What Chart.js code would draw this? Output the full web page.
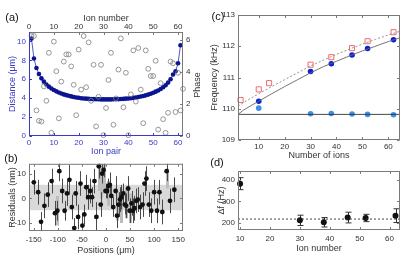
<!DOCTYPE html>
<html>
<head>
<meta charset="utf-8">
<script src="https://cdn.jsdelivr.net/npm/chart.js@4.4.1/dist/chart.umd.min.js"></script>
<style>
  html, body { margin: 0; padding: 0; background: #fff; }
  #fig { position: relative; width: 415px; height: 258px; overflow: hidden; font-family: 'Liberation Sans', Arial, sans-serif; }
  #fig canvas { position: absolute; }
  .lbl { position: absolute; font-size: 11px; color: #111; transform: translate(-50%, -50%); }
  .rot { position: absolute; font-size: 9px; color: #333; white-space: nowrap; transform: translate(-50%, -50%) rotate(-90deg); }
</style>
</head>
<body>
<div id="fig">
  <canvas id="chartA" width="210" height="160" style="left:0;top:0"></canvas>
  <canvas id="chartB" width="210" height="102" style="left:0;top:156px"></canvas>
  <canvas id="chartC" width="211" height="164" style="left:204px;top:0"></canvas>
  <canvas id="chartD" width="211" height="100" style="left:204px;top:158px"></canvas>
  <div class="lbl" style="left:12px;top:17px">(a)</div>
  <div class="lbl" style="left:11px;top:158px">(b)</div>
  <div class="lbl" style="left:218px;top:16px">(c)</div>
  <div class="lbl" style="left:217px;top:162px">(d)</div>
  <div class="rot" style="left:197px;top:85px">Phase</div>
</div>
<script>
// ---- (a) ion spacing and phase ----
const ionTicks = [0, 10, 20, 30, 40, 50, 60];
const distTicks = [0, 2, 4, 6, 8, 10];
const phaseTicks = [0, 2, 4, 6];
// distance between neighbouring ions, pair 1..61
const spacing = [10.3, 8.2, 7.2, 6.55, 6.1, 5.75, 5.45, 5.22, 5.03, 4.86, 4.72, 4.6, 4.49, 4.4, 4.32,
    4.25, 4.19, 4.13, 4.08, 4.04, 4.0, 3.97, 3.95, 3.93, 3.91, 3.9, 3.89, 3.88, 3.87, 3.87, 3.87,
    3.87, 3.87, 3.88, 3.89, 3.9, 3.91, 3.93, 3.95, 3.97, 4.0, 4.03, 4.07, 4.12, 4.17, 4.23,
    4.3, 4.38, 4.47, 4.57, 4.69, 4.82, 4.97, 5.15, 5.37, 5.65, 6.0, 6.5, 6.85, 7.7, 9.6];
// phase of ion 1..62
const phase = [6.25, 6.25, 1.6, 0.95, 0.9, 3.1, 2.2, 5.2, 0.2, 5.9, 4.05, 1.1, 3.4, 4.65, 5.1,
    5.1, 4.35, 3.2, 1.3, 5.4, 2.9, 6.25, 3.05, 5.85, 2.2, 4.45, 0.6, 2.45, 4.45, 0.05,
    1.75, 3.5, 5.2, 0.7, 2.35, 4.15, 6.1, 1.8, 3.95, 0.05, 2.6, 5.35, 2.15, 5.5, 2.9,
    0.8, 5.35, 4.2, 3.75, 3.75, 4.7, 0.4, 3.3, 1.05, 0.2, 1.45, 4.65, 4.55, 1.5, 3.95, 1.6, 2.95];

// ---- (b) residuals ----
const posTicks = [-150, -100, -50, 0, 50, 100, 150];
const residTicks = [-10, 0, 10];
const positions = [-150, -141, -135, -128, -121, -113, -106, -101, -97, -91, -86, -81, -76, -71, -66, -63,
    -58, -53, -49, -45, -41, -37, -33, -29, -24, -20, -15, -11, -8, -5, -1, 2,
    5, 8, 11, 15, 20, 23, 26, 29, 32, 36, 39, 42, 46, 49, 53, 56,
    59, 63, 66, 71, 76, 80, 84, 89, 94, 100, 106, 111, 117, 126, 133, 142];
const residuals = [6.5, 2.5, -9.5, -3, 1.5, 7, -6, -5, 11, 3, -5, 2, 7.5, -3.5, -12, 2,
    -7.5, 6, -11, -6.5, 4.5, 0.5, 3, 0.5, 7, -7.5, 13, -2.5, 10, 11.5, 3, 3,
    5, 5.5, 1, -3.5, 3, -7, -2.5, -0.5, 0.5, 2, -2.5, -3, 4, -5, -2, -5,
    -4, -1, -0.5, -3.5, -2.5, 6, 8, -2.5, -5, 2.5, -5, 2.5, -5.5, 11, -1, 3.5];
const residErr = [5, 5, 4, 5, 5, 5, 5, 4, 4, 5, 4, 5, 6, 5, 4, 5,
    5, 5, 5, 4, 5, 5, 5, 4, 5, 6, 5, 5, 4, 3, 3, 3,
    3, 5, 5, 4, 6, 5, 5, 5, 5, 4, 4, 5, 5, 5, 5, 5,
    5, 5, 5, 5, 5, 5, 5, 5, 5, 5, 5, 5, 5, 4, 5, 5];
const sysPos = [-101, -15, -11, -5, 5, 23, 32, 42, 49, 126];
const sysMid = [-5, 9, 7, 8, 2, -3, -3, -2, -4, 8];
const sysErr = [6, 6, 7, 6, 5, 6, 7, 6, 6, 4];
const bandLimits = [-4.8, 5.5];

// ---- (c) mode frequencies ----
const nTicks = [10, 20, 30, 40, 50, 60];
const freqTicks = [109, 110, 111, 112, 113];
const ionsBlue = [10, 30, 38, 46, 52, 62];
const freqBlue = [110.24, 111.19, 111.44, 111.72, 111.93, 112.21];
const freqLight = [110.02, 109.84, 109.85, 109.83, 109.82, 109.81];
const ionsRed = [3, 10, 14, 30, 38, 46, 52, 62];
const freqRed = [110.28, 110.62, 110.82, 111.41, 111.65, 111.94, 112.16, 112.45];
const fitIons = [2, 4, 7, 10, 15, 20, 25, 30, 35, 40, 45, 50, 55, 60, 64.5];
const fitSolid = [109.82, 109.95, 110.1, 110.24, 110.48, 110.71, 110.93, 111.15, 111.35, 111.52, 111.69, 111.85, 112.0, 112.15, 112.27];
const fitDashed = [110.08, 110.19, 110.34, 110.48, 110.71, 110.93, 111.15, 111.37, 111.56, 111.74, 111.91, 112.07, 112.22, 112.36, 112.48];
const comFreq = 109.82;

// ---- (d) frequency splitting ----
const dfTicks = [200, 300, 400];
const ionsD = [10, 30, 38, 46, 52, 62];
const deltaF = [383, 212, 203, 225, 223, 234];
const deltaErr = [28, 24, 22, 25, 17, 32];
const deltaMean = 218;

const BLUE_AX = '#3a3ac4';
const BOX = '#7a7a7a';

Chart.defaults.font.family = "'Liberation Sans', Arial, sans-serif";
Chart.defaults.font.size = 8;
Chart.defaults.color = '#333';
Chart.defaults.animation = false;
Chart.defaults.responsive = false;
Chart.defaults.plugins.legend.display = false;
Chart.defaults.plugins.tooltip.enabled = false;

// box around the plot area with inward ticks (matlab look)
const framePlugin = {
    id: 'frame',
    afterDatasetsDraw(chart, args, opts) {
        const {ctx, chartArea: a} = chart;
        const len = 2.5;
        ctx.save();
        ctx.lineWidth = 1;
        (opts.sides || []).forEach(side => {
            const sc = chart.scales[side.scale];
            ctx.strokeStyle = side.color || BOX;
            ctx.beginPath();
            if (side.at === 'bottom' || side.at === 'top') {
                const y = side.at === 'bottom' ? a.bottom - 0.5 : a.top + 0.5;
                const dir = side.at === 'bottom' ? -1 : 1;
                ctx.moveTo(a.left, y); ctx.lineTo(a.right, y);
                sc.ticks.forEach(t => {
                    const x = Math.round(sc.getPixelForValue(t.value)) + 0.5;
                    ctx.moveTo(x, y); ctx.lineTo(x, y + dir * len);
                });
            } else {
                const x = side.at === 'left' ? a.left + 0.5 : a.right - 0.5;
                const dir = side.at === 'left' ? 1 : -1;
                ctx.moveTo(x, a.top); ctx.lineTo(x, a.bottom);
                sc.ticks.forEach(t => {
                    const y = Math.round(sc.getPixelForValue(t.value)) + 0.5;
                    ctx.moveTo(x, y); ctx.lineTo(x + dir * len, y);
                });
            }
            ctx.stroke();
        });
        ctx.restore();
    }
};

// vertical error bars from dataset.errs
const errorBarPlugin = {
    id: 'errorBars',
    beforeDatasetsDraw(chart) {
        const {ctx, chartArea: a} = chart;
        ctx.save();
        ctx.beginPath();
        ctx.rect(a.left, a.top, a.right - a.left, a.bottom - a.top);
        ctx.clip();
        chart.data.datasets.forEach(ds => {
            if (!ds.errs) return;
            const xs = chart.scales[ds.xAxisID || 'x'];
            const ys = chart.scales[ds.yAxisID || 'y'];
            ctx.strokeStyle = ds.errColor;
            ctx.lineWidth = ds.errWidth || 1;
            ds.data.forEach((p, j) => {
                const px = Math.round(xs.getPixelForValue(p.x)) + 0.5;
                const top = ys.getPixelForValue(p.y + ds.errs[j]);
                const bot = ys.getPixelForValue(p.y - ds.errs[j]);
                ctx.beginPath();
                ctx.moveTo(px, top); ctx.lineTo(px, bot);
                if (ds.errCap) {
                    ctx.moveTo(px - ds.errCap, top); ctx.lineTo(px + ds.errCap, top);
                    ctx.moveTo(px - ds.errCap, bot); ctx.lineTo(px + ds.errCap, bot);
                }
                ctx.stroke();
            });
        });
        ctx.restore();
    }
};

// shaded band in (b)
const bandPlugin = {
    id: 'band',
    beforeDatasetsDraw(chart) {
        const {ctx, chartArea: a, scales: {y}} = chart;
        const top = y.getPixelForValue(bandLimits[1]);
        const bot = y.getPixelForValue(bandLimits[0]);
        ctx.save();
        ctx.fillStyle = '#d9d9d9';
        ctx.fillRect(a.left, top, a.right - a.left, bot - top);
        ctx.restore();
    }
};

function fixedTicks(values) {
    return scale => { scale.ticks = values.map(v => ({value: v})); };
}
function axisTitle(text, color, padding) {
    return {display: true, text: text, color: color || '#333', font: {size: 9}, padding: padding};
}
const noGrid = {display: false, drawTicks: false};
const noBorder = {display: false};

// (a)
new Chart(document.getElementById('chartA'), {
    type: 'scatter',
    data: {
        datasets: [{
            data: phase.map((v, i) => ({x: i + 1, y: v})),
            xAxisID: 'x2', yAxisID: 'y2',
            pointRadius: 2.4, pointBorderWidth: 0.8,
            pointBorderColor: '#7d7d7d', pointBackgroundColor: 'rgba(0,0,0,0)',
            clip: false
        }, {
            data: spacing.map((v, i) => ({x: i + 1, y: v})),
            showLine: true, borderColor: '#2430b8', borderWidth: 0.8,
            pointRadius: 2.3, pointBorderWidth: 0,
            pointBackgroundColor: '#0b1490',
            clip: false
        }]
    },
    options: {
        layout: {padding: 0},
        scales: {
            x: {
                type: 'linear', position: 'bottom', min: 0, max: 62,
                afterBuildTicks: fixedTicks(ionTicks),
                afterFit: s => { s.height = 24; },
                grid: noGrid, border: noBorder,
                ticks: {color: BLUE_AX, padding: 2, maxRotation: 0, autoSkip: false},
                title: axisTitle('Ion pair', BLUE_AX, {top: 0, bottom: 3})
            },
            x2: {
                type: 'linear', position: 'top', min: 0, max: 62,
                afterBuildTicks: fixedTicks(ionTicks),
                afterFit: s => { s.height = 32; },
                grid: noGrid, border: noBorder,
                ticks: {padding: 0, maxRotation: 0, autoSkip: false},
                title: axisTitle('Ion number', '#333', {top: 13.5, bottom: 0})
            },
            y: {
                type: 'linear', position: 'left', min: 0, max: 11,
                afterBuildTicks: fixedTicks(distTicks),
                afterFit: s => { s.width = 29; },
                grid: noGrid, border: noBorder,
                ticks: {color: BLUE_AX, padding: 3},
                title: axisTitle('Distance (\u03bcm)', BLUE_AX, {top: 7, bottom: 0})
            },
            y2: {
                type: 'linear', position: 'right', min: 0, max: 6.5,
                afterBuildTicks: fixedTicks(phaseTicks),
                afterFit: s => { s.width = 27; },
                grid: noGrid, border: noBorder,
                ticks: {padding: 3}
            }
        },
        plugins: {
            frame: {sides: [
                {scale: 'x2', at: 'top'}, {scale: 'y2', at: 'right'},
                {scale: 'x', at: 'bottom', color: BLUE_AX}, {scale: 'y', at: 'left', color: BLUE_AX}
            ]}
        }
    },
    plugins: [framePlugin]
});

// (b)
new Chart(document.getElementById('chartB'), {
    type: 'scatter',
    data: {
        datasets: [{
            data: sysPos.map((p, i) => ({x: p, y: sysMid[i]})),
            errs: sysErr, errColor: '#bdbdbd', errWidth: 3,
            pointRadius: 0
        }, {
            data: positions.map((p, i) => ({x: p, y: residuals[i]})),
            errs: residErr, errColor: '#4a4a4a', errWidth: 1,
            pointRadius: 2.4, pointBorderWidth: 0, pointBackgroundColor: '#111'
        }]
    },
    options: {
        layout: {padding: {top: 7, right: 27}},
        scales: {
            x: {
                type: 'linear', position: 'bottom', min: -160, max: 160,
                afterBuildTicks: fixedTicks(posTicks),
                afterFit: s => { s.height = 27; },
                grid: noGrid, border: noBorder,
                ticks: {padding: 4, maxRotation: 0, autoSkip: false},
                title: axisTitle('Positions (\u03bcm)', '#333', {top: 0, bottom: 2})
            },
            y: {
                type: 'linear', position: 'left', min: -13.2, max: 14,
                afterBuildTicks: fixedTicks(residTicks),
                afterFit: s => { s.width = 29; },
                grid: noGrid, border: noBorder,
                ticks: {padding: 3},
                title: axisTitle('Residuals (nm)', '#333', {top: 7, bottom: 0})
            }
        },
        plugins: {
            frame: {sides: [
                {scale: 'x', at: 'top'}, {scale: 'y', at: 'right'},
                {scale: 'x', at: 'bottom'}, {scale: 'y', at: 'left'}
            ]}
        }
    },
    plugins: [bandPlugin, errorBarPlugin, framePlugin]
});

// (c)
new Chart(document.getElementById('chartC'), {
    type: 'scatter',
    data: {
        datasets: [{
            data: [{x: 2, y: comFreq}, {x: 64.5, y: comFreq}],
            showLine: true, borderColor: '#333', borderWidth: 0.9, pointRadius: 0
        }, {
            data: fitIons.map((n, i) => ({x: n, y: fitSolid[i]})),
            showLine: true, borderColor: '#666', borderWidth: 0.9, pointRadius: 0
        }, {
            data: fitIons.map((n, i) => ({x: n, y: fitDashed[i]})),
            showLine: true, borderColor: '#888', borderWidth: 0.9, borderDash: [2, 2], pointRadius: 0
        }, {
            data: ionsBlue.map((n, i) => ({x: n, y: freqLight[i]})),
            pointRadius: 2.8, pointBorderWidth: 0, pointBackgroundColor: '#3f8fe6', clip: false
        }, {
            data: ionsBlue.map((n, i) => ({x: n, y: freqBlue[i]})),
            pointRadius: 2.8, pointBorderWidth: 0, pointBackgroundColor: '#0a1fd6', clip: false
        }, {
            data: ionsRed.map((n, i) => ({x: n, y: freqRed[i]})),
            pointStyle: 'rect', pointRadius: 3.6, pointBorderWidth: 1,
            pointBorderColor: '#f26b6b', pointBackgroundColor: 'rgba(255,255,255,0)', clip: false
        }]
    },
    options: {
        layout: {padding: {top: 15, right: 15}},
        scales: {
            x: {
                type: 'linear', position: 'bottom', min: 2, max: 64.5,
                afterBuildTicks: fixedTicks(nTicks),
                afterFit: s => { s.height = 24; },
                grid: noGrid, border: noBorder,
                ticks: {padding: 2, maxRotation: 0, autoSkip: false},
                title: axisTitle('Number of ions', '#333', {top: 0, bottom: 2.6})
            },
            y: {
                type: 'linear', position: 'left', min: 109, max: 113,
                afterBuildTicks: fixedTicks(freqTicks),
                afterFit: s => { s.width = 34; },
                grid: noGrid, border: noBorder,
                ticks: {padding: 3},
                title: axisTitle('Frequency (kHz)', '#333', {top: 5.5, bottom: 0})
            }
        },
        plugins: {
            frame: {sides: [
                {scale: 'x', at: 'top'}, {scale: 'y', at: 'right'},
                {scale: 'x', at: 'bottom'}, {scale: 'y', at: 'left'}
            ]}
        }
    },
    plugins: [framePlugin]
});

// (d)
new Chart(document.getElementById('chartD'), {
    type: 'scatter',
    data: {
        datasets: [{
            data: [{x: 9.3, y: deltaMean}, {x: 63.5, y: deltaMean}],
            showLine: true, borderColor: '#333', borderWidth: 0.9, borderDash: [2, 2], pointRadius: 0
        }, {
            data: ionsD.map((n, i) => ({x: n, y: deltaF[i]})),
            errs: deltaErr, errColor: '#333', errWidth: 1, errCap: 3,
            pointRadius: 3, pointBorderWidth: 0, pointBackgroundColor: '#111', clip: false
        }]
    },
    options: {
        layout: {padding: {top: 13, right: 15}},
        scales: {
            x: {
                type: 'linear', position: 'bottom', min: 9.3, max: 63.5,
                afterBuildTicks: fixedTicks(nTicks),
                afterFit: s => { s.height = 28; },
                grid: noGrid, border: noBorder,
                ticks: {padding: 4, maxRotation: 0, autoSkip: false},
                title: axisTitle('Ion number', '#333', {top: 0, bottom: 3.6})
            },
            y: {
                type: 'linear', position: 'left', min: 167, max: 442,
                afterBuildTicks: fixedTicks(dfTicks),
                afterFit: s => { s.width = 34; },
                grid: noGrid, border: noBorder,
                ticks: {padding: 3},
                title: axisTitle('\u0394f (Hz)', '#333', {top: 12.6, bottom: 0})
            }
        },
        plugins: {
            frame: {sides: [
                {scale: 'x', at: 'top'}, {scale: 'y', at: 'right'},
                {scale: 'x', at: 'bottom'}, {scale: 'y', at: 'left'}
            ]}
        }
    },
    plugins: [errorBarPlugin, framePlugin]
});
</script>
</body>
</html>
